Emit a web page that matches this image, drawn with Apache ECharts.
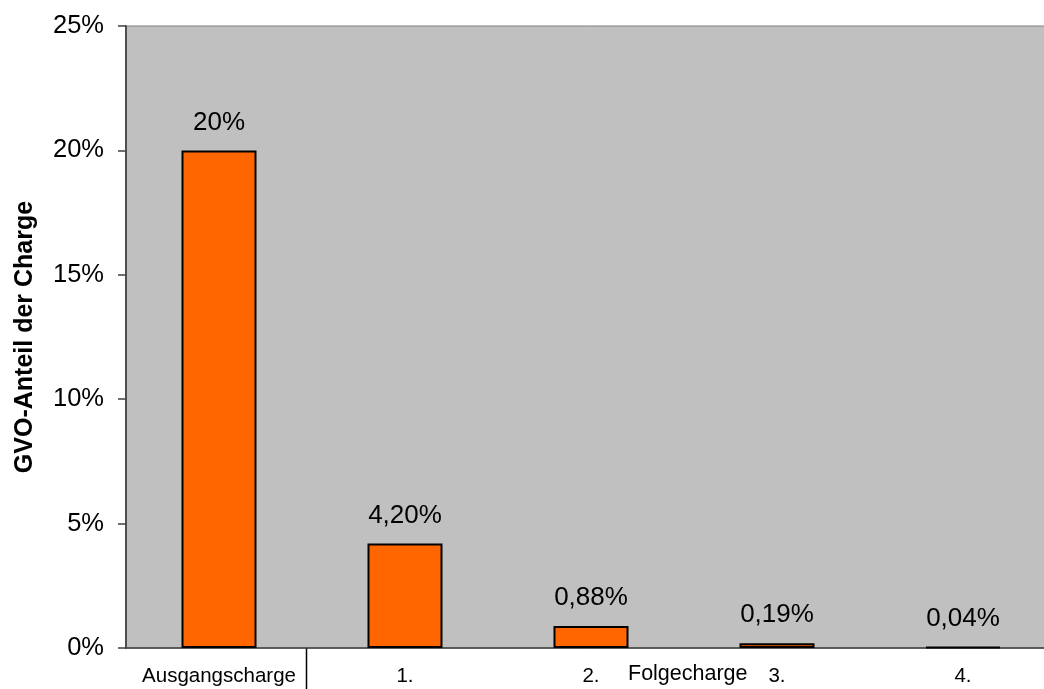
<!DOCTYPE html>
<html>
<head>
<meta charset="utf-8">
<title>GVO-Anteil der Charge</title>
<script src="https://cdn.jsdelivr.net/npm/echarts@6/dist/echarts.min.js"></script>
<style>
  html, body { margin: 0; padding: 0; background: #ffffff; }
  #chart { width: 1044px; height: 689px; }
</style>
</head>
<body>
<div id="chart"></div>
<script>
// Batches: the starting batch and its follow-up batches
const categories = ['Ausgangscharge', '1.', '2.', '3.', '4.'];
// GMO share per batch, in percent
const gvoShare = [20, 4.2, 0.88, 0.19, 0.04];
// Y axis range and step, in percent
const yTicks = { min: 0, max: 25, step: 5 };
const groupLabel = 'Folgecharge';
const yTitle = 'GVO-Anteil der Charge';

const FONT = '"Liberation Sans", Arial, sans-serif';

function formatShare(v) {
  return (Number.isInteger(v) ? String(v) : v.toFixed(2).replace('.', ',')) + '%';
}

const chart = echarts.init(document.getElementById('chart'), null, { renderer: 'canvas' });

chart.setOption({
  animation: false,
  backgroundColor: '#ffffff',
  textStyle: { fontFamily: FONT, color: '#000' },
  grid: {
    left: 126, top: 26, width: 930, height: 622,
    outerBoundsMode: 'none',
    containLabel: false,
    show: true,
    backgroundColor: '#C0C0C0',
    borderColor: '#808080',
    borderWidth: 1
  },
  xAxis: {
    type: 'category',
    data: categories,
    boundaryGap: true,
    axisLine: { show: true, lineStyle: { color: '#404040', width: 1.5 } },
    axisTick: { show: false },
    axisLabel: {
      interval: 0,
      margin: 18,
      fontSize: 20.5,
      fontFamily: FONT,
      color: '#000'
    },
    splitLine: { show: false }
  },
  yAxis: {
    type: 'value',
    min: yTicks.min,
    max: yTicks.max,
    interval: yTicks.step,
    name: yTitle,
    nameLocation: 'middle',
    nameRotate: 90,
    nameGap: 88,
    nameTextStyle: { fontSize: 25, fontWeight: 'bold', fontFamily: FONT, color: '#000' },
    axisLine: { show: true, lineStyle: { color: '#505050', width: 2 } },
    axisTick: { show: true, inside: false, length: 8, lineStyle: { color: '#404040', width: 1.5 } },
    axisLabel: {
      margin: 22,
      fontSize: 25.5,
      fontFamily: FONT,
      color: '#000',
      formatter: function (v) { return v + '%'; }
    },
    splitLine: { show: false }
  },
  series: [{
    type: 'bar',
    data: gvoShare,
    barWidth: 75,
    itemStyle: { color: '#FF6600', borderColor: '#000', borderWidth: 2 },
    label: {
      show: true,
      position: 'top',
      distance: 15,
      fontSize: 26,
      fontFamily: FONT,
      color: '#000',
      formatter: function (p) { return formatShare(p.value); }
    }
  }]
});

// Divider under the axis between the starting batch and the follow-up batches,
// plus the group caption for the follow-up batches.
const c0 = chart.convertToPixel({ xAxisIndex: 0 }, categories[0]);
const c1 = chart.convertToPixel({ xAxisIndex: 0 }, categories[1]);
const y0 = chart.convertToPixel({ yAxisIndex: 0 }, yTicks.min);
const divX = Math.round((c0 + c1) / 2) - 6 + 0.5;
chart.setOption({
  graphic: [
    {
      type: 'line',
      shape: { x1: divX, y1: y0, x2: divX, y2: 689 },
      style: { stroke: '#000', lineWidth: 1.5 }
    },
    {
      type: 'text',
      left: 628,
      top: 663,
      style: { text: groupLabel, font: '21.5px ' + FONT, fill: '#000' }
    }
  ]
});
</script>
</body>
</html>
